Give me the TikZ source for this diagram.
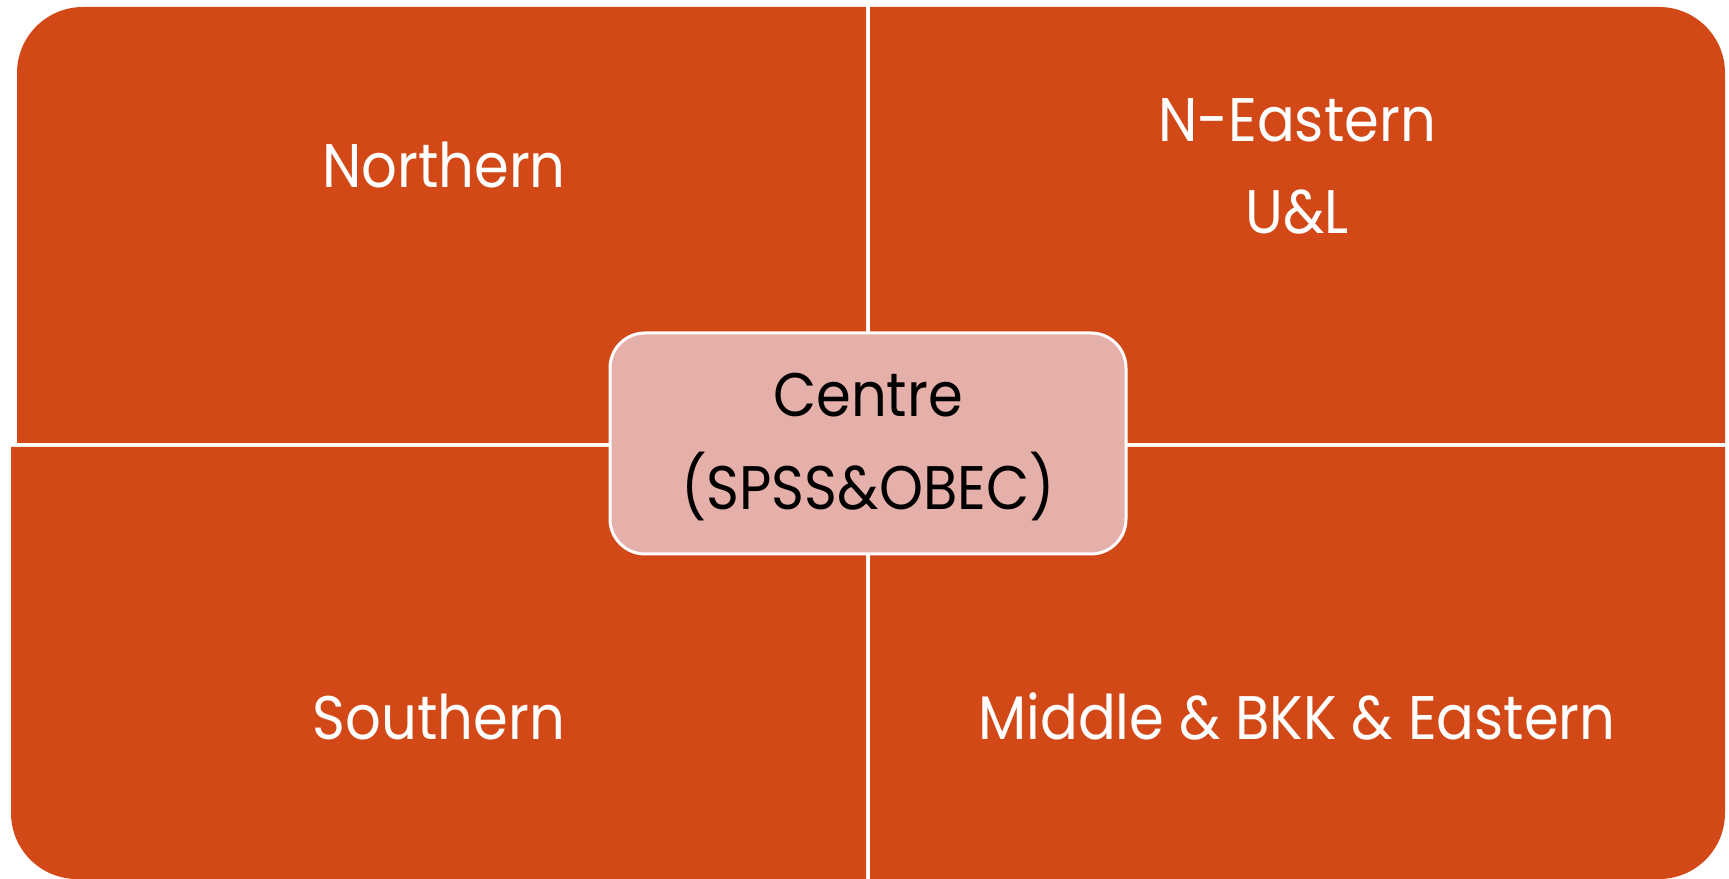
\documentclass[tikz,border=0pt]{standalone}
\usepackage{fontspec}
\setmainfont{Poppins}[FakeStretch=0.91]
\definecolor{quadred}{RGB}{210,72,22}
\definecolor{centrepink}{RGB}{230,176,170}
\tikzset{
  quad/.style={fill=quadred},
  regiontext/.style={text=white, align=center, font=\fontsize{17.5}{26.2}\selectfont},
  centrebox/.style={fill=centrepink, draw=white, line width=0.3mm, rounded corners=3.5mm}
}

\begin{document}
\begin{tikzpicture}[x=0.1mm,y=0.1mm]
  %%%%% START %%%%%
  \useasboundingbox (0,0) rectangle (1729,879);

  % the four regions, each with one rounded outer corner
  \fill[quad] (866,436) -- (17,436) -- (17,806) arc[start angle=180, end angle=90, radius=6.6mm] -- (866,872) -- cycle;
  \fill[quad] (870,436) -- (870,872) -- (1659,872) arc[start angle=90, end angle=0, radius=6.6mm] -- (1725,436) -- cycle;
  \fill[quad] (866,432) -- (11,432) -- (11,66) arc[start angle=180, end angle=270, radius=6.6mm] -- (866,0) -- cycle;
  \fill[quad] (870,432) -- (870,0) -- (1659,0) arc[start angle=270, end angle=360, radius=6.6mm] -- (1725,432) -- cycle;

  \node[regiontext] (northern) at (444,714) {Northern};
  \node[regiontext] (neastern) at (1297,713) {N-Eastern\\U\&L};
  \node[regiontext] (southern) at (439,162) {Southern};
  \node[regiontext] (middle) at (1297,163) {Middle \& BKK \& Eastern};

  % centre box on top
  \draw[centrebox] (610,325) rectangle (1126,546);
  \node[regiontext, text=black] (centre) at (868,432) {Centre\\(SPSS\&OBEC)};
  %%%%% END %%%%%
\end{tikzpicture}
\end{document}
